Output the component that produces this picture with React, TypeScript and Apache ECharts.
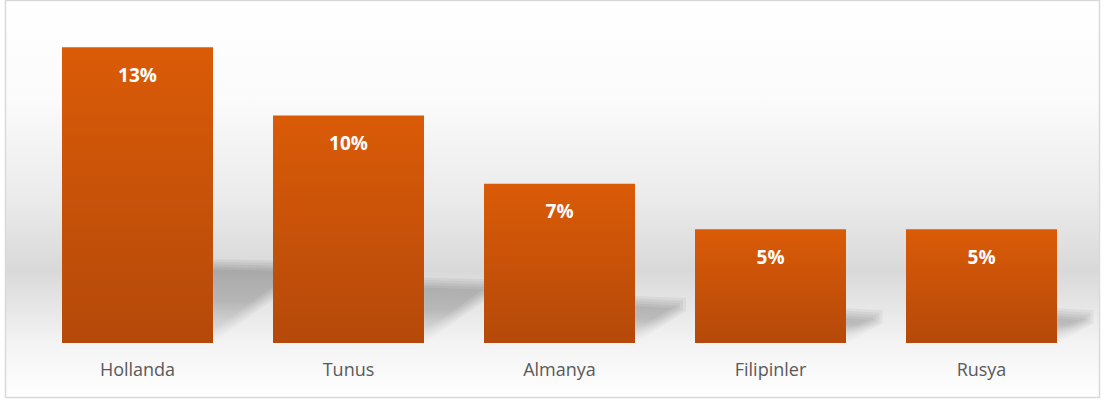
import React, { useEffect, useRef } from "react";
import * as echarts from "echarts";

const categories = ["Hollanda", "Tunus", "Almanya", "Filipinler", "Rusya"];
const values = [13, 10, 7, 5, 5];
const labels = ["13%", "10%", "7%", "5%", "5%"];
const axisMax = 14;

export default function App() {
  const ref = useRef<HTMLDivElement>(null);
  useEffect(() => {
    if (!ref.current) return;
    const chart = echarts.init(ref.current, null, { renderer: "svg" });
    const shadowData = values.map((v, i) => [i, v]);
    chart.setOption({
      animation: false,
      backgroundColor: "#ffffff",
      graphic: [
        {
          type: "rect",
          z: -10,
          silent: true,
          shape: { x: 5.5, y: 0.5, width: 1094, height: 397 },
          style: {
            fill: new echarts.graphic.LinearGradient(0, 0, 0, 1, [
              { offset: 0, color: "#ffffff" },
              { offset: 0.25, color: "#fbfbfb" },
              { offset: 0.5, color: "#ebebeb" },
              { offset: 0.68, color: "#d9d9d9" },
              { offset: 0.86, color: "#f3f3f3" },
              { offset: 1, color: "#ffffff" },
            ]),
            stroke: "#d9d9d9",
            lineWidth: 1.5,
          },
        },
      ],
      grid: { left: 32, width: 1055, top: 24.5, height: 318.5, containLabel: false },
      xAxis: {
        type: "category",
        data: categories,
        axisLine: { show: false },
        axisTick: { show: false },
        axisLabel: {
          color: "#595959",
          fontFamily: "Open Sans",
          fontSize: 18,
          margin: 17,
        },
      },
      yAxis: {
        type: "value",
        min: 0,
        max: axisMax,
        show: false,
        splitLine: { show: false },
      },
      series: [
        {
          type: "custom",
          z: 1,
          silent: true,
          data: shadowData,
          renderItem: (params: any, api: any) => {
            const i = api.value(0);
            const v = api.value(1);
            const base = api.coord([i, 0]);
            const top = api.coord([i, v]);
            const bw = api.size([1, 0])[0] * 0.716;
            const x1 = base[0] + bw / 2;
            const h = base[1] - top[1];
            const T = base[1] - 0.27 * h;
            const L = 0.32 * h;
            const children: any[] = [];
            for (let s = 0; s < 5; s++) {
              const ins = s * 2.5;
              children.push({
                type: "polygon",
                shape: {
                  points: [
                    [x1, T - 4 + ins],
                    [x1 + L - ins * 1.2, T - 2 + ins],
                    [x1 + L - ins * 1.2, T + 11 - ins * 0.4],
                    [x1, base[1] - ins * 1.2],
                  ],
                },
                style: {
                  fill: new echarts.graphic.LinearGradient(0, 0, 0, 1, [
                    { offset: 0, color: "rgba(0,0,0,0.05)" },
                    { offset: 0.5, color: "rgba(0,0,0,0.045)" },
                    { offset: 1, color: "rgba(0,0,0,0.01)" },
                  ]),
                },
              });
            }
            return { type: "group", children };
          },
        },
        {
          type: "bar",
          z: 2,
          data: values,
          barWidth: 151,
          itemStyle: {
            color: new echarts.graphic.LinearGradient(0, 0, 0, 1, [
              { offset: 0, color: "#da5b07" },
              { offset: 1, color: "#b5490a" },
            ]),
          },
          label: {
            show: true,
            position: "insideTop",
            distance: 18,
            formatter: (p: any) => labels[p.dataIndex],
            color: "#ffffff",
            fontFamily: "Open Sans",
            fontWeight: "bold",
            fontSize: 19,
          },
        },
      ],
    });
    return () => chart.dispose();
  }, []);
  return (
    <div
      ref={ref}
      style={{ position: "fixed", left: 0, top: 0, width: 1105, height: 401 }}
    />
  );
}
